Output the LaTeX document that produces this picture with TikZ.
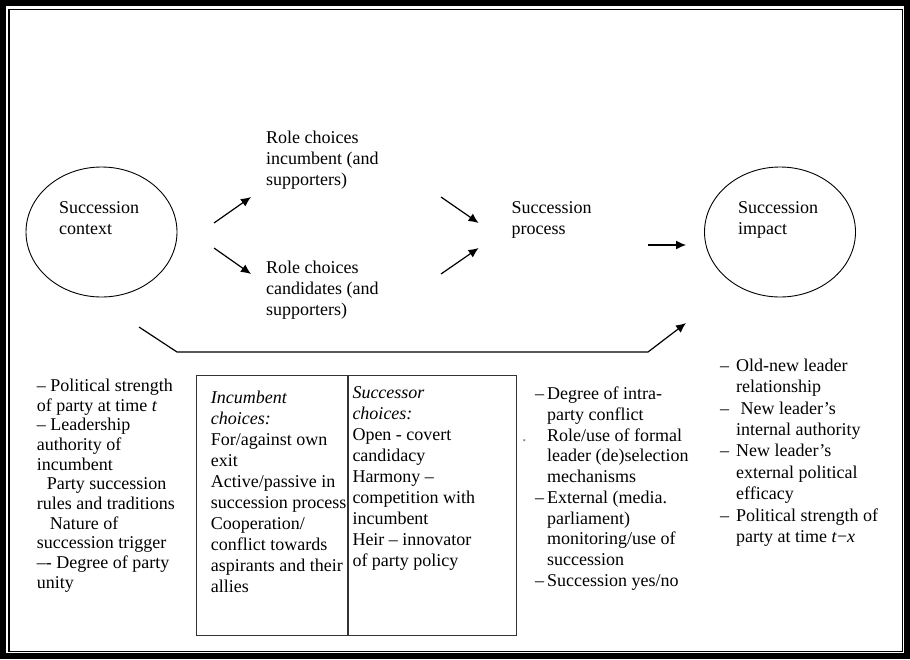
\documentclass[tikz,border=0pt]{standalone}
\usepackage{fontspec}
\setmainfont{Liberation Serif}
\usetikzlibrary{arrows.meta,positioning,shapes.geometric}
\newcommand{\dsh}[1][12pt]{\makebox[#1][l]{–}}
\newcommand{\ind}[1][12pt]{\hspace*{#1}}

\begin{document}
\begin{tikzpicture}[x=1pt,y=-1pt,font=\fontsize{18}{21}\selectfont,
txt/.style={anchor=north west,align=left,inner sep=0pt},
oval/.style={draw,ellipse,minimum width=151pt,minimum height=130pt,inner sep=0pt,line width=0.9pt},
col/.style={draw=black!80,anchor=north west,minimum height=260pt,inner sep=0pt,line width=0.8pt},
arr/.style={-{Latex[length=10pt,width=9pt]},line width=1.2pt}]
\useasboundingbox (0,0) rectangle (910,659);
\draw[line width=6pt] (3,3) rectangle (907,656);
\draw[line width=1.2pt] (9,9.5) rectangle (902.5,651.5);
% ovals and top labels
\node[oval] (ctx) at (101.5,232) {};
\node[txt] (ctxlbl) at (59,201.7) {Succession\\context};
\node[oval] (imp) at (780,232) {};
\node[txt] (implbl) at (738,201.7) {Succession\\impact};
\node[txt] (inc) at (266,130.4) {Role choices\\incumbent (and\\supporters)};
\node[txt] (cand) at (266,260.4) {Role choices\\candidates (and\\supporters)};
\node[txt] (proc) at (511.4,201.4) {Succession\\process};
% arrow ends
\coordinate (a1) at (214,223); \coordinate (a2) at (251,197);
\coordinate (c1) at (214,248); \coordinate (c2) at (251,274);
\coordinate (p1) at (441,197); \coordinate (p2) at (478.6,223);
\coordinate (q1) at (441,274); \coordinate (q2) at (478.6,248);
\coordinate (r1) at (648,245); \coordinate (r2) at (686,245);
\coordinate (b0) at (139,327); \coordinate (b1) at (177,352); \coordinate (b2) at (648,352); \coordinate (b3) at (686,323);
\draw[arr] (a1)--(a2); \draw[arr] (c1)--(c2); \draw[arr] (p1)--(p2); \draw[arr] (q1)--(q2); \draw[arr] (r1)--(r2);
\draw[arr] (b0)--(b1)--(b2)--(b3);
% bottom row
\node[txt,font=\fontsize{18}{19.7}\selectfont] (ctxtxt) at (36.7,378.7) {– Political strength\\of party at time \textit{t}\\– Leadership\\authority of\\incumbent\\\ind[10pt]Party succession\\rules and traditions\\\ind[13pt]Nature of\\succession trigger\\–- Degree of party\\unity};
\node[col,minimum width=151pt] (incbox) at (196,375) {};
\node[col,minimum width=168pt] (sucbox) at (incbox.north east) {};
\node[txt] (inctxt) at (210.7,390.4) {\textit{Incumbent}\\\textit{choices:}\\For/against own\\exit\\Active/passive in\\succession process\\Cooperation/\\conflict towards\\aspirants and their\\allies};
\node[txt] (suctxt) at (352.3,386.7) {\textit{Successor}\\\textit{choices:}\\Open - covert\\candidacy\\Harmony –\\competition with\\incumbent\\Heir – innovator\\of party policy};
\node[txt,font=\fontsize{18}{20.7}\selectfont] (proctxt) at (535,387) {\dsh Degree of intra-\\\ind party conflict\\\makebox[12pt][l]{\hspace*{-13pt}{\color{gray}.}}Role/use of formal\\\ind leader (de)selection\\\ind mechanisms\\\dsh External (media.\\\ind parliament)\\\ind monitoring/use of\\\ind succession\\\dsh Succession yes/no};
\node[txt,font=\fontsize{18}{21.4}\selectfont] (imptxt) at (720,358.7) {\dsh[16pt]Old-new leader\\\ind[16pt]relationship\\\dsh[16pt]\ New leader’s\\\ind[16pt]internal authority\\\dsh[16pt]New leader’s\\\ind[16pt]external political\\\ind[16pt]efficacy\\\dsh[16pt]Political strength of\\\ind[16pt]party at time \textit{t}−\textit{x}};
\end{tikzpicture}
\end{document}
